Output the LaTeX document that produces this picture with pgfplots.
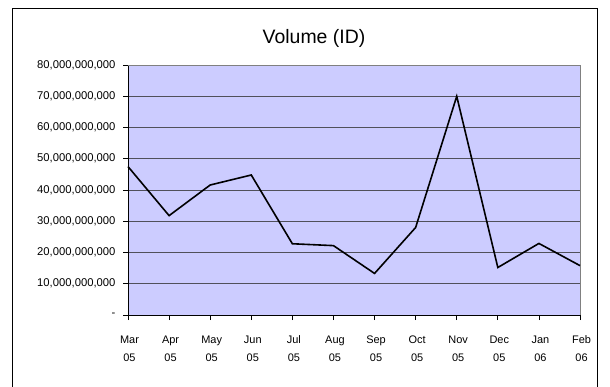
\documentclass[border=0pt]{standalone}
\usepackage{pgfplots}
\pgfplotsset{compat=1.18}
\usepackage{fontspec}
\setmainfont{Liberation Sans}
\definecolor{plotbg}{RGB}{204,204,255}
\definecolor{gridc}{RGB}{80,80,90}
\newcommand{\tl}[2]{\rule{0pt}{9bp}#1\\\rule{0pt}{9bp}#2}
\begin{document}
\begin{tikzpicture}
\useasboundingbox (0bp,0bp) rectangle (610bp,387bp);
\draw[black, line width=1bp] (12.5bp,-2bp) -- (12.5bp,378.5bp) -- (597.5bp,378.5bp) -- (597.5bp,-2bp);
\node[anchor=center] at (314bp,349bp) {\fontsize{19.5}{23}\selectfont Volume (ID)};
\begin{axis}[at={(128bp,72bp)}, anchor=south west, width=452bp, height=250bp, scale only axis,
  xmin=0, xmax=11, ymin=0, ymax=80e9,
  axis background/.style={fill=plotbg},
  axis x line*=bottom, axis y line*=left,
  x axis line style={-, black, line width=1bp},
  y axis line style={-, black, line width=1bp},
  ymajorgrids, major grid style={gridc, line width=1bp},
  tick align=outside, major tick length=5bp,
  tick style={black, line width=0.8bp},
  xtick={0,...,11},
  xticklabels={{\tl{Mar}{05}},{\tl{Apr}{05}},{\tl{May}{05}},{\tl{Jun}{05}},{\tl{Jul}{05}},{\tl{Aug}{05}},{\tl{Sep}{05}},{\tl{Oct}{05}},{\tl{Nov}{05}},{\tl{Dec}{05}},{\tl{Jan}{06}},{\tl{Feb}{06}}},
  xticklabel style={align=center, font=\fontsize{11}{18}\selectfont, anchor=north, yshift=-11bp, xshift=1.5bp},
  ytick={0,10e9,20e9,30e9,40e9,50e9,60e9,70e9,80e9},
  yticklabels={{-\hspace{12bp}},{10,000,000,000},{20,000,000,000},{30,000,000,000},{40,000,000,000},{50,000,000,000},{60,000,000,000},{70,000,000,000},{80,000,000,000}},
  yticklabel style={font=\fontsize{11.3}{13}\selectfont, xshift=-4bp},
  scaled y ticks=false,
  clip=false,
]
\draw[gray, line width=1bp] (rel axis cs:0,1) -- (rel axis cs:1,1) -- (rel axis cs:1,0);
\addplot[black, line width=1.6bp, mark=none] coordinates {
(0,47.5e9) (1,31.8e9) (2,41.6e9) (3,44.8e9) (4,22.8e9) (5,22.2e9)
(6,13.3e9) (7,28.0e9) (8,70.0e9) (9,15.2e9) (10,22.9e9) (11,15.8e9)};
\end{axis}
\end{tikzpicture}
\end{document}
